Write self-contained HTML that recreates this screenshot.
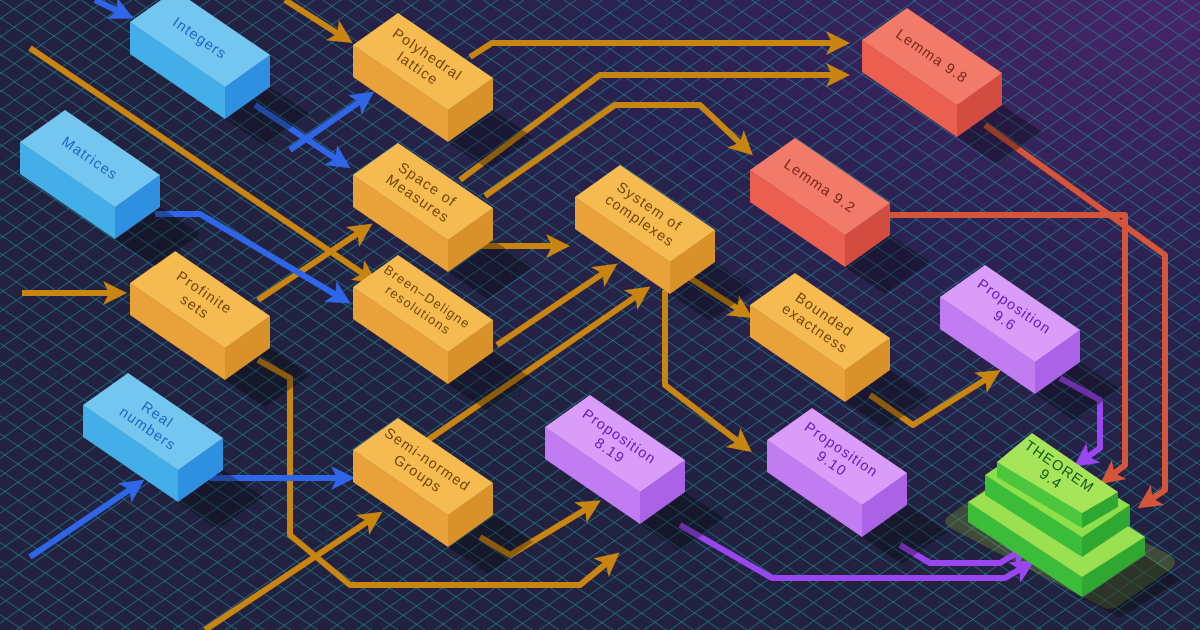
<!DOCTYPE html>
<html><head><meta charset="utf-8"><style>
html,body{margin:0;padding:0;background:#24223f;}
svg{display:block}
text{font-family:"Liberation Sans",sans-serif;font-size:14.5px;letter-spacing:1.2px}
</style></head><body>
<svg width="1200" height="630" viewBox="0 0 1200 630" xmlns="http://www.w3.org/2000/svg">
<defs>
<radialGradient id="bg" cx="1" cy="0" r="0.9">
<stop offset="0" stop-color="#48246a"/><stop offset="0.5" stop-color="#2a2250"/><stop offset="1" stop-color="#22213f"/>
</radialGradient>
<pattern id="g1" width="15" height="10" patternUnits="userSpaceOnUse" patternTransform="rotate(-56)">
<line x1="0" y1="0" x2="0" y2="10" stroke="#1d8b98" stroke-width="1.4"/></pattern>
<pattern id="g2" width="15" height="10" patternUnits="userSpaceOnUse" patternTransform="rotate(55)">
<line x1="0" y1="0" x2="0" y2="10" stroke="#1d8b98" stroke-width="1.4"/></pattern>
<marker id="ao" markerWidth="4" markerHeight="4" refX="1.5" refY="2" orient="auto"><path d="M0,0 L4,2 L0,4 L1,2z" fill="#c98512"/></marker>
<marker id="ab" markerWidth="4" markerHeight="4" refX="1.5" refY="2" orient="auto"><path d="M0,0 L4,2 L0,4 L1,2z" fill="#2f66e8"/></marker>
<marker id="ar" markerWidth="4" markerHeight="4" refX="1.5" refY="2" orient="auto"><path d="M0,0 L4,2 L0,4 L1,2z" fill="#d4553a"/></marker>
<marker id="ap" markerWidth="4" markerHeight="4" refX="1.5" refY="2" orient="auto"><path d="M0,0 L4,2 L0,4 L1,2z" fill="#9a46f0"/></marker>
<g id="shadow"><polygon points="95,97 140,65 180,92 135,124" fill="#000" opacity="0.3"/></g>
</defs>
<rect width="1200" height="630" fill="url(#bg)"/>
<rect width="1200" height="630" fill="url(#g1)" opacity="0.85"/>
<rect width="1200" height="630" fill="url(#g2)" opacity="0.85"/>

<path d="M950,515 L1000,478 Q1010,472 1020,478 L1170,555 Q1180,562 1170,570 L1120,605 Q1110,612 1100,606 L950,528 Q940,521 950,515z" fill="#7a9a30" opacity="0.35"/>

<g fill="none" stroke-width="6" stroke-linejoin="round">
<g stroke="#c98512">
<polyline points="285,0 340,35" marker-end="url(#ao)"/>
<polyline points="470,57 492,43 835,43" marker-end="url(#ao)"/>
<polyline points="460,180 600,75 835,75" marker-end="url(#ao)"/>
<polyline points="485,196 615,105 700,105 742,145" marker-end="url(#ao)"/>
<polyline points="30,48 365,275" marker-end="url(#ao)"/>
<polyline points="22,293 112,293" marker-end="url(#ao)"/>
<polyline points="258,300 360,232" marker-end="url(#ao)"/>
<polyline points="480,246 555,246" marker-end="url(#ao)"/>
<polyline points="497,345 605,272" marker-end="url(#ao)"/>
<polyline points="425,442 638,295" marker-end="url(#ao)"/>
<polyline points="690,278 740,310" marker-end="url(#ao)"/>
<polyline points="665,290 665,385 740,443" marker-end="url(#ao)"/>
<polyline points="870,395 913,425 988,378" marker-end="url(#ao)"/>
<polyline points="258,360 290,378 290,535 350,585 580,585 608,562" marker-end="url(#ao)"/>
<polyline points="205,630 370,520" marker-end="url(#ao)"/>
<polyline points="480,537 510,555 588,508" marker-end="url(#ao)"/>
</g>
<g stroke="#2f66e8">
<polyline points="95,0 120,12" marker-end="url(#ab)"/>
<polyline points="255,105 338,160" marker-end="url(#ab)"/>
<polyline points="290,150 362,100" marker-end="url(#ab)"/>
<polyline points="155,214 200,214 338,296" marker-end="url(#ab)"/>
<polyline points="210,478 340,478" marker-end="url(#ab)"/>
<polyline points="30,557 132,488" marker-end="url(#ab)"/>
</g>
<g stroke="#d4553a">
<polyline points="985,125 1165,255 1165,490 1150,500" marker-end="url(#ar)"/>
<polyline points="890,215 1125,215 1125,465 1112,475" marker-end="url(#ar)"/>
</g>
<g stroke="#9a46f0">
<polyline points="1060,378 1100,400 1100,448 1086,458" marker-end="url(#ap)"/>
<polyline points="900,545 930,563 1000,563 1018,552" marker-end="url(#ap)"/>
<polyline points="680,525 772,578 1005,578 1022,568" marker-end="url(#ap)"/>
</g>
</g>

<g>
<g transform="translate(353,45)"><use href="#shadow"/><polygon points="0,0 95,65 95,97 0,32" fill="#e9a23a"/><polygon points="95,65 140,33 140,65 95,97" fill="#d99129"/><polygon points="0,0 45,-32 140,33 95,65" fill="#f6bb50"/><g transform="translate(70,16) rotate(34.5)" fill="#6e4408" text-anchor="middle"><text y="-3">Polyhedral</text><text y="14">lattice</text></g></g>
<g transform="translate(353,175)"><use href="#shadow"/><polygon points="0,0 95,65 95,97 0,32" fill="#e9a23a"/><polygon points="95,65 140,33 140,65 95,97" fill="#d99129"/><polygon points="0,0 45,-32 140,33 95,65" fill="#f6bb50"/><g transform="translate(70,16) rotate(34.5)" fill="#6e4408" text-anchor="middle"><text y="-3">Space of</text><text y="14">Measures</text></g></g>
<g transform="translate(575,197)"><use href="#shadow"/><polygon points="0,0 95,65 95,97 0,32" fill="#e9a23a"/><polygon points="95,65 140,33 140,65 95,97" fill="#d99129"/><polygon points="0,0 45,-32 140,33 95,65" fill="#f6bb50"/><g transform="translate(70,16) rotate(34.5)" fill="#6e4408" text-anchor="middle"><text y="-3">System of</text><text y="14">complexes</text></g></g>
<g transform="translate(130,283)"><use href="#shadow"/><polygon points="0,0 95,65 95,97 0,32" fill="#e9a23a"/><polygon points="95,65 140,33 140,65 95,97" fill="#d99129"/><polygon points="0,0 45,-32 140,33 95,65" fill="#f6bb50"/><g transform="translate(70,16) rotate(34.5)" fill="#6e4408" text-anchor="middle"><text y="-3">Profinite</text><text y="14">sets</text></g></g>
<g transform="translate(353,287)"><use href="#shadow"/><polygon points="0,0 95,65 95,97 0,32" fill="#e9a23a"/><polygon points="95,65 140,33 140,65 95,97" fill="#d99129"/><polygon points="0,0 45,-32 140,33 95,65" fill="#f6bb50"/><g transform="translate(70,16) rotate(34.5)" fill="#6e4408" text-anchor="middle"><text y="-3" style="font-size:13px">Breen–Deligne</text><text y="13" style="font-size:13px">resolutions</text></g></g>
<g transform="translate(750,305)"><use href="#shadow"/><polygon points="0,0 95,65 95,97 0,32" fill="#e9a23a"/><polygon points="95,65 140,33 140,65 95,97" fill="#d99129"/><polygon points="0,0 45,-32 140,33 95,65" fill="#f6bb50"/><g transform="translate(70,16) rotate(34.5)" fill="#6e4408" text-anchor="middle"><text y="-3">Bounded</text><text y="14">exactness</text></g></g>
<g transform="translate(353,450)"><use href="#shadow"/><polygon points="0,0 95,65 95,97 0,32" fill="#e9a23a"/><polygon points="95,65 140,33 140,65 95,97" fill="#d99129"/><polygon points="0,0 45,-32 140,33 95,65" fill="#f6bb50"/><g transform="translate(70,16) rotate(34.5)" fill="#6e4408" text-anchor="middle"><text y="-3">Semi-normed</text><text y="14">Groups</text></g></g>
<g transform="translate(130,22)"><use href="#shadow"/><polygon points="0,0 95,65 95,97 0,32" fill="#44aee8"/><polygon points="95,65 140,33 140,65 95,97" fill="#2f8fe0"/><polygon points="0,0 45,-32 140,33 95,65" fill="#72c6ef"/><g transform="translate(70,16) rotate(34.5)" fill="#2462c0" text-anchor="middle"><text y="5">Integers</text></g></g>
<g transform="translate(20,142)"><use href="#shadow"/><polygon points="0,0 95,65 95,97 0,32" fill="#44aee8"/><polygon points="95,65 140,33 140,65 95,97" fill="#2f8fe0"/><polygon points="0,0 45,-32 140,33 95,65" fill="#72c6ef"/><g transform="translate(70,16) rotate(34.5)" fill="#2462c0" text-anchor="middle"><text y="5">Matrices</text></g></g>
<g transform="translate(83,405)"><use href="#shadow"/><polygon points="0,0 95,65 95,97 0,32" fill="#44aee8"/><polygon points="95,65 140,33 140,65 95,97" fill="#2f8fe0"/><polygon points="0,0 45,-32 140,33 95,65" fill="#72c6ef"/><g transform="translate(70,16) rotate(34.5)" fill="#2462c0" text-anchor="middle"><text y="-3">Real</text><text y="14">numbers</text></g></g>
<g transform="translate(862,40)"><use href="#shadow"/><polygon points="0,0 95,65 95,97 0,32" fill="#ea5f50"/><polygon points="95,65 140,33 140,65 95,97" fill="#d24c40"/><polygon points="0,0 45,-32 140,33 95,65" fill="#f27a68"/><g transform="translate(70,16) rotate(34.5)" fill="#7a2218" text-anchor="middle"><text y="5">Lemma 9.8</text></g></g>
<g transform="translate(750,170)"><use href="#shadow"/><polygon points="0,0 95,65 95,97 0,32" fill="#ea5f50"/><polygon points="95,65 140,33 140,65 95,97" fill="#d24c40"/><polygon points="0,0 45,-32 140,33 95,65" fill="#f27a68"/><g transform="translate(70,16) rotate(34.5)" fill="#7a2218" text-anchor="middle"><text y="5">Lemma 9.2</text></g></g>
<g transform="translate(940,297)"><use href="#shadow"/><polygon points="0,0 95,65 95,97 0,32" fill="#c27cf2"/><polygon points="95,65 140,33 140,65 95,97" fill="#ab62e6"/><polygon points="0,0 45,-32 140,33 95,65" fill="#d99cf8"/><g transform="translate(70,16) rotate(34.5)" fill="#6a18b8" text-anchor="middle"><text y="-3">Proposition</text><text y="14">9.6</text></g></g>
<g transform="translate(545,427)"><use href="#shadow"/><polygon points="0,0 95,65 95,97 0,32" fill="#c27cf2"/><polygon points="95,65 140,33 140,65 95,97" fill="#ab62e6"/><polygon points="0,0 45,-32 140,33 95,65" fill="#d99cf8"/><g transform="translate(70,16) rotate(34.5)" fill="#6a18b8" text-anchor="middle"><text y="-3">Proposition</text><text y="14">8.19</text></g></g>
<g transform="translate(767,440)"><use href="#shadow"/><polygon points="0,0 95,65 95,97 0,32" fill="#c27cf2"/><polygon points="95,65 140,33 140,65 95,97" fill="#ab62e6"/><polygon points="0,0 45,-32 140,33 95,65" fill="#d99cf8"/><g transform="translate(70,16) rotate(34.5)" fill="#6a18b8" text-anchor="middle"><text y="-3">Proposition</text><text y="14">9.10</text></g></g>
</g>

<g>
<polygon points="1082,598 1145,556 1180,580 1120,618" fill="#000" opacity="0.3"/>
<polygon points="968,502 1082,577 1082,597 968,522" fill="#3cbd3a"/>
<polygon points="1082,577 1145,537 1145,555 1082,597" fill="#2ea830"/>
<polygon points="968,502 1030,462 1145,537 1082,577" fill="#9ae050"/>
<polygon points="985,475 1082,537 1082,557 985,495" fill="#3cbd3a"/>
<polygon points="1082,537 1130,505 1130,525 1082,557" fill="#2ea830"/>
<polygon points="985,475 1030,445 1130,505 1082,537" fill="#8ee04a"/>
<polygon points="997,462 1082,513 1082,528 997,477" fill="#4cc63c"/>
<polygon points="1082,513 1118,492 1118,507 1082,528" fill="#2ea830"/>
<polygon points="997,462 1032,433 1118,492 1082,513" fill="#a6e45a"/>
<g transform="translate(1055,473) rotate(34.5)" fill="#14561e" text-anchor="middle"><text y="-3">THEOREM</text><text y="12">9.4</text></g>
</g>
</svg>
</body></html>
